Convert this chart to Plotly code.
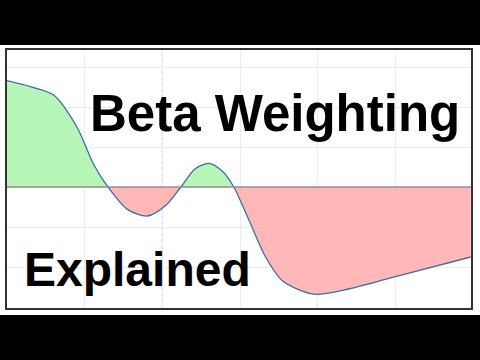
import plotly.graph_objects as go

# Curve values (x in grid units, y relative to baseline)
curve_x = [0, 0.3, 0.6, 0.9, 1.12, 1.30, 1.55, 1.81, 2.05, 2.24, 2.42, 2.60, 2.78, 2.92,
           3.12, 3.33, 3.55, 3.95, 4.4, 5.04, 5.97]
curve_y = [2.66, 2.51, 2.30, 1.50, 0.55, 0.0, -0.56, -0.725, -0.45, 0.0, 0.45, 0.59, 0.38, 0.0,
           -0.85, -1.75, -2.35, -2.68, -2.55, -2.22, -1.75]
crossings = [1.30, 2.24, 2.92]
title_top = "Beta Weighting"
title_bottom = "Explained"

GREEN = "rgba(170,245,170,0.85)"
RED = "rgba(255,170,170,0.85)"
SMOOTH = 0.8

# split into segments at zero crossings (crossing points are in the data)
segments = []
cur_x, cur_y = [], []
for x, y in zip(curve_x, curve_y):
    cur_x.append(x)
    cur_y.append(y)
    if x in crossings:
        segments.append((cur_x, cur_y))
        cur_x, cur_y = [x], [y]
segments.append((cur_x, cur_y))

fig = go.Figure()
for sx, sy in segments:
    positive = sum(sy) > 0
    fig.add_trace(go.Scatter(
        x=sx, y=sy, mode="lines", line=dict(width=0, shape="spline", smoothing=SMOOTH),
        fill="tozeroy", fillcolor=GREEN if positive else RED,
        hoverinfo="skip", showlegend=False))

fig.add_trace(go.Scatter(
    x=curve_x, y=curve_y, mode="lines",
    line=dict(color="#3a6ea8", width=1.3, shape="spline", smoothing=SMOOTH),
    showlegend=False))

W, H = 480, 360
L, R, T, B = 7, 7, 50, 52
ph = H - T - B


def py2paper(py):
    return (H - B - py) / ph


fig.update_layout(
    width=W, height=H,
    margin=dict(l=L, r=R, t=T, b=B),
    paper_bgcolor="white", plot_bgcolor="white",
    xaxis=dict(range=[0, 466 / 78], showgrid=True, gridcolor="#ececec", gridwidth=1,
               dtick=1, tick0=0, zeroline=False, showticklabels=False, ticks="",
               showline=True, linecolor="#333333", linewidth=1.5, mirror=True, fixedrange=True),
    yaxis=dict(range=[-3.025, 3.425], showgrid=True, gridcolor="#ececec", gridwidth=1,
               dtick=1, tick0=0, zeroline=False, showticklabels=False, ticks="",
               showline=True, linecolor="#333333", linewidth=1.5, mirror=True, fixedrange=True),
    shapes=[
        dict(type="line", xref="x", yref="paper", x0=2, x1=2, y0=0, y1=1,
             line=dict(color="#b0b0b0", width=1.2, dash="dot"), layer="below"),
        dict(type="line", xref="paper", yref="y", x0=0, x1=1, y0=0, y1=0,
             line=dict(color="#968c8c", width=1.4), layer="above"),
        dict(type="rect", xref="paper", yref="paper", x0=-0.05, x1=1.05,
             y0=py2paper(45), y1=py2paper(-5), fillcolor="black", line=dict(width=0), layer="above"),
        dict(type="rect", xref="paper", yref="paper", x0=-0.05, x1=1.05,
             y0=py2paper(365), y1=py2paper(315), fillcolor="black", line=dict(width=0), layer="above"),
    ],
    annotations=[
        dict(text=title_top, xref="paper", yref="paper", x=(88 - L) / 466, y=py2paper(113),
             xanchor="left", yanchor="middle", showarrow=False,
             font=dict(family="Liberation Sans, Arial, sans-serif", size=51, color="black", weight="bold")),
        dict(text=title_bottom, xref="paper", yref="paper", x=(22 - L) / 466, y=py2paper(269),
             xanchor="left", yanchor="middle", showarrow=False,
             font=dict(family="Liberation Sans, Arial, sans-serif", size=48, color="black", weight="bold")),
    ],
)

fig.write_html("out.html", config={"displayModeBar": False},
               post_script="document.body.style.margin='0';document.body.style.overflow='hidden';")
